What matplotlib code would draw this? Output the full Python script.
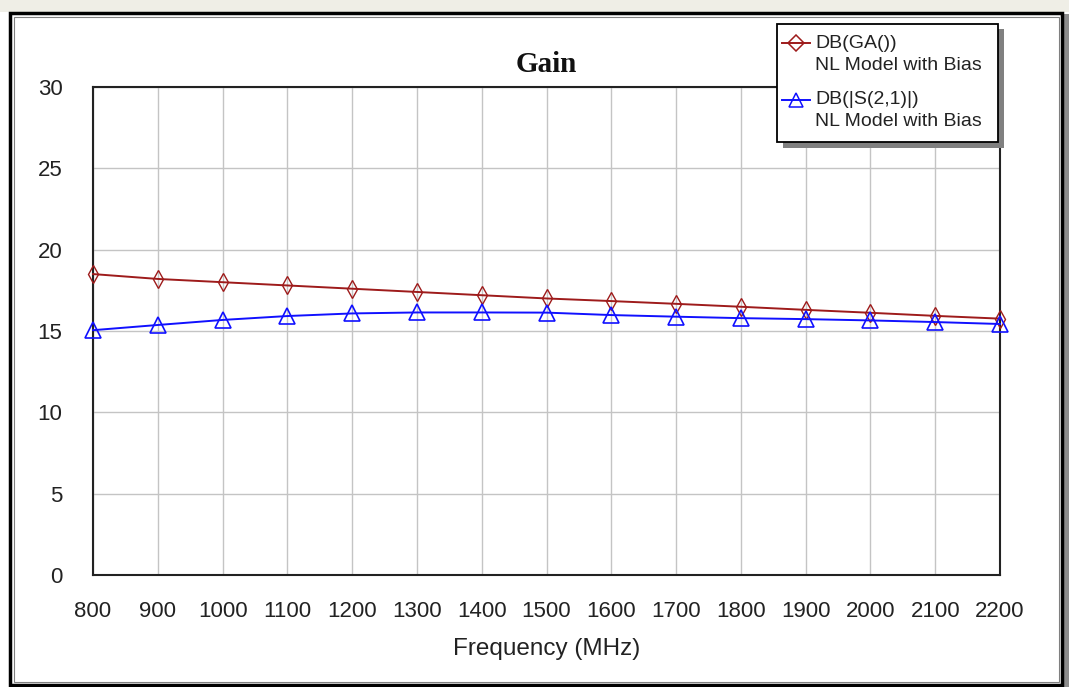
import matplotlib.pyplot as plt
from matplotlib.patches import Rectangle
from matplotlib.lines import Line2D

plt.rcParams['font.family'] = ['Liberation Sans', 'DejaVu Sans']

# frequency sweep (MHz) and the two gain traces (dB)
freq = [800, 900, 1000, 1100, 1200, 1300, 1400, 1500,
        1600, 1700, 1800, 1900, 2000, 2100, 2200]
ga_db = [18.5, 18.2, 18.0, 17.8, 17.6, 17.4, 17.2, 17.0,
         16.84, 16.67, 16.49, 16.3, 16.12, 15.93, 15.76]
s21_db = [15.05, 15.37, 15.68, 15.92, 16.08, 16.14, 16.14, 16.13,
          15.98, 15.88, 15.79, 15.73, 15.65, 15.55, 15.43]

trace_names = ['DB(GA())', 'DB(|S(2,1)|)']
trace_note = 'NL Model with Bias'

x_ticks = list(range(800, 2201, 100))
y_ticks = [0, 5, 10, 15, 20, 25, 30]

RED = '#9e1b1b'
BLUE = '#1010ff'
TXT = '#222222'

W, H = 1069, 687
fig = plt.figure(figsize=(W / 100, H / 100), dpi=100)
fig.patch.set_facecolor('white')


def fx(px):
    return px / W


def fy(py):
    return 1 - py / H


def fig_rect(x0, y0, x1, y1, **kw):
    # rectangle given in pixel coords (top-left origin)
    r = Rectangle((fx(x0), fy(y1)), fx(x1 - x0), (y1 - y0) / H,
                  transform=fig.transFigure, **kw)
    fig.patches.append(r)
    return r


# window frame
fig_rect(0, 0, W, 12, facecolor='#efeee6', edgecolor='none', zorder=0)
fig_rect(1063, 14, 1069, 687, facecolor='#8c8c8c', edgecolor='none', zorder=0)
fig_rect(10, 13, 1062, 685, facecolor='none', edgecolor='black', linewidth=2.5, zorder=1)
fig_rect(14, 17, 1059, 682, facecolor='none', edgecolor='#808080', linewidth=0.8, zorder=1)

ax = fig.add_axes([fx(93), fy(575), fx(1000 - 93), (575 - 87) / H])

ax.plot(freq, ga_db, color=RED, linewidth=1.4, marker='d', markersize=9,
        markerfacecolor='none', markeredgecolor=RED, markeredgewidth=1.0,
        clip_on=False, zorder=3)
ax.plot(freq, s21_db, color=BLUE, linewidth=1.4, marker='^', markersize=11,
        markerfacecolor='none', markeredgecolor=BLUE, markeredgewidth=1.2,
        clip_on=False, zorder=3)

ax.set_xlim(800, 2200)
ax.set_ylim(0, 30)
ax.set_xticks(x_ticks)
ax.set_yticks(y_ticks)
ax.tick_params(length=0, labelsize=16, colors=TXT)
ax.tick_params(axis='x', pad=19)
ax.tick_params(axis='y', pad=22)
ax.grid(True, color='#c4c4c4', linewidth=1.0)
ax.set_axisbelow(True)
for sp in ax.spines.values():
    sp.set_color(TXT)
    sp.set_linewidth(1.5)

ax.set_xlabel('Frequency (MHz)', fontsize=17.5, labelpad=11, color=TXT)
ax.set_title('Gain', fontsize=21, fontweight='bold', family='Liberation Serif',
             pad=11, color='#111111')

# legend box with drop shadow
fig_rect(783, 29, 1004, 148, facecolor='#808080', edgecolor='none', zorder=5)
fig_rect(777, 24, 998, 142, facecolor='white', edgecolor='black', linewidth=1.3, zorder=6)
for (name, col, mk, ms), y in zip(
        [(trace_names[0], RED, 'D', 8), (trace_names[1], BLUE, '^', 10)], [43, 100]):
    fig.add_artist(Line2D([fx(782), fx(810)], [fy(y), fy(y)], color=col, linewidth=1.4,
                          transform=fig.transFigure, zorder=7))
    fig.add_artist(Line2D([fx(796)], [fy(y)], marker=mk, markersize=ms,
                          markerfacecolor='none', markeredgecolor=col,
                          markeredgewidth=1.1, transform=fig.transFigure, zorder=7))
    fig.text(fx(815), fy(y), name, fontsize=14, color=TXT, va='center', zorder=7)
    fig.text(fx(815), fy(y + 22), trace_note, fontsize=14, color=TXT, va='center', zorder=7)

fig.savefig('out.png', dpi=100, facecolor='white')
